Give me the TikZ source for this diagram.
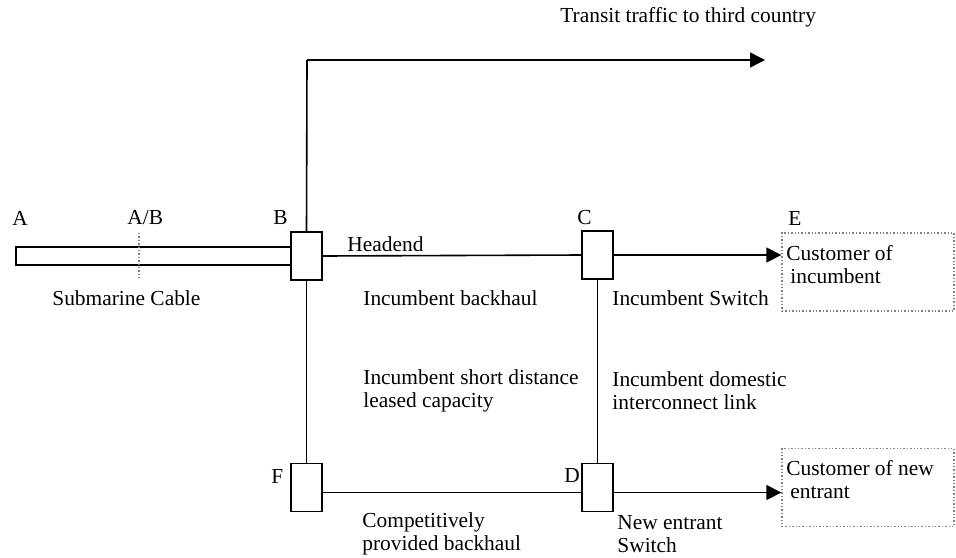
\documentclass[tikz,border=0pt]{standalone}
\usepackage{fontspec}
\setmainfont{Liberation Serif}
\usetikzlibrary{arrows.meta}
\begin{document}
\begin{tikzpicture}[x=0.5pt,y=-0.5pt,
  every node/.style={font=\fontsize{10.7}{11.5}\selectfont},
  sw/.style={draw,line width=0.8pt,minimum width=15.5pt,minimum height=24pt,inner sep=0pt,fill=white},
  cust/.style={draw=gray,densely dotted,line width=0.7pt,minimum width=86pt,minimum height=39pt,inner sep=0pt},
  lbl/.style={anchor=west,inner sep=0pt,align=left},
  link/.style={line width=0.8pt},
  arr/.style={link,-{Triangle[length=7.5pt,width=7.5pt]}}]
\useasboundingbox (0,0) rectangle (956,557);
% cable
\node[draw,line width=0.8pt,minimum width=137.5pt,minimum height=9pt,inner sep=0pt] (cable) at (153.5,256) {};
\coordinate (abtop) at (139,233);
\coordinate (abbot) at (139,278);
\draw[gray,densely dotted,line width=0.7pt] (abtop) -- (abbot);
% switches
\node[sw] (B) at (306.5,256) {};
\node[sw] (C) at (597.5,255) {};
\node[sw] (F) at (306.5,487.5) {};
\node[sw] (D) at (597.5,487.5) {};
% customers
\node[cust] (E) at (868,272) {};
\node[cust] (N) at (868,487.5) {};
% transit
\coordinate (top) at (307,60);
\coordinate (transit) at (765,60);
\draw[link] (B.north) -- (top);
\draw[arr] (top) -- (transit);
% links
\draw[link] (B.east) -- (C.west);
\draw[arr] (C.east) -- (C.east -| E.west);
\draw[link] (B.south) -- (F.north);
\draw[link] (C.south) -- (D.north);
\draw[link] ([yshift=-2.5pt]F.east) -- ([yshift=-2.5pt]D.west);
\draw[arr] ([yshift=-2.5pt]D.east) -- ([yshift=-2.5pt]D.east -| N.west);
% letters
\node[lbl] (la) at (12,218) {A};
\node[lbl] (lab) at (127,218) {A/B};
\node[lbl] (lb) at (273,218) {B};
\node[lbl] (lc) at (577,218) {C};
\node[lbl] (le) at (788,218) {E};
\node[lbl] (lf) at (271,476) {F};
\node[lbl] (ld) at (564,476) {D};
% texts
\node[lbl] (t0) at (560,17) {Transit traffic to third country};
\node[lbl] (t1) at (347,244) {Headend};
\node[lbl] (t2) at (52,298) {Submarine Cable};
\node[lbl] (t3) at (363,298) {Incumbent backhaul};
\node[lbl] (t4) at (612,298) {Incumbent Switch};
\node[lbl] (t5) at (363,391) {Incumbent short distance\\leased capacity};
\node[lbl] (t6) at (612,391) {Incumbent domestic\\interconnect link};
\node[lbl] (t7) at (362,534) {Competitively\\provided backhaul};
\node[lbl] (t8) at (617,534) {New entrant\\Switch};
\node[lbl] (t9) at (786,265) {Customer of\\\hspace{2pt}incumbent};
\node[lbl] (t10) at (786,480) {Customer of new\\\hspace{2pt}entrant};
\end{tikzpicture}
\end{document}
